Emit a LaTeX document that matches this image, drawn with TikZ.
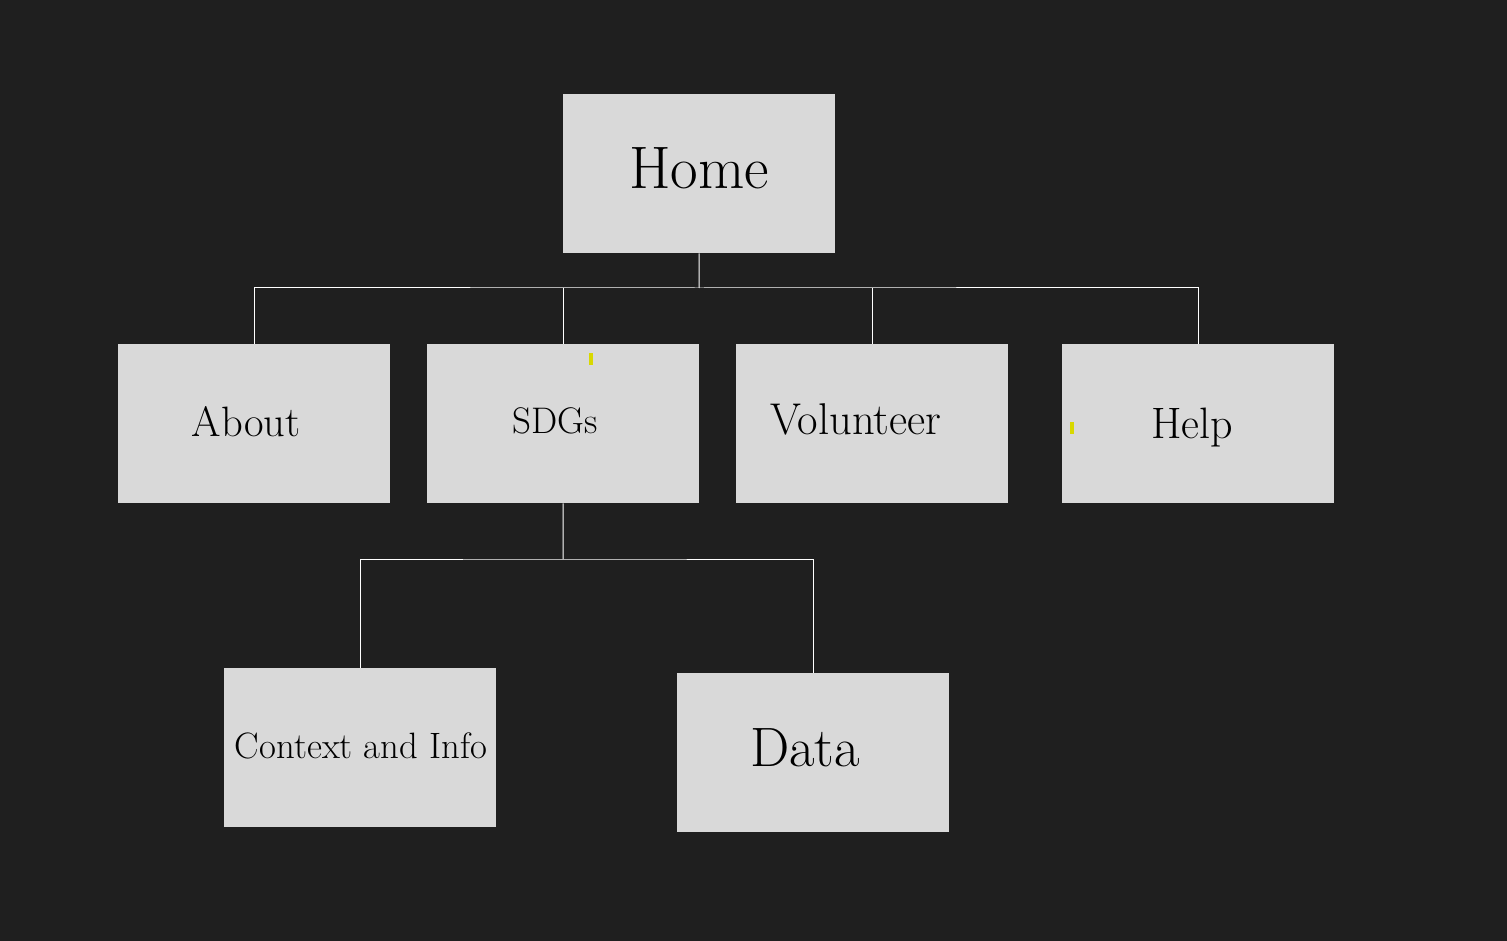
\documentclass[tikz,border=0pt]{standalone}
\definecolor{bg}{HTML}{1F1F1F}
\definecolor{boxgray}{HTML}{D9D9D9}
\definecolor{cursoryellow}{HTML}{D8D800}
\begin{document}
\begin{tikzpicture}[x=1pt,y=-1pt,
  box/.style={fill=boxgray,draw=none,minimum width=272pt,minimum height=159pt,inner sep=0pt,anchor=north west},
  lbl/.style={anchor=base,inner sep=0pt,text=black},
  conn/.style={draw=white,line width=1pt}]
\fill[bg] (0,0) rectangle (1507,941);
\useasboundingbox (0,0) rectangle (1507,941);
% boxes
\node[box] (home) at (563,94) {};
\node[box] (about) at (118,344) {};
\node[box] (sdgs) at (427,344) {};
\node[box] (vol) at (736,344) {};
\node[box] (help) at (1062,344) {};
\node[box] (ctx) at (224,668) {};
\node[box] (data) at (677,673) {};
% labels
\node[lbl,font=\fontsize{60}{60}\selectfont] (thome) at (699,189) {Home};
\node[lbl,font=\fontsize{42.5}{42.5}\selectfont] (tabout) at (246,436) {About};
\node[lbl,font=\fontsize{37}{37}\selectfont] (tsdgs) at (555,433) {SDGs};
\node[lbl,font=\fontsize{44.5}{44.5}\selectfont] (tvol) at (856,434) {Volunteer};
\node[lbl,font=\fontsize{44}{44}\selectfont] (thelp) at (1192,438) {Help};
\node[lbl,font=\fontsize{36.7}{36.7}\selectfont] (tctx) at (361,758) {Context and Info};
\node[lbl,font=\fontsize{55.5}{55.5}\selectfont] (tdata) at (805,766) {Data};
% connectors
\coordinate (hb) at (699,288);
\coordinate (sb) at (563,559);
\draw[conn] (home.south) -- (hb);
\draw[conn] (about.north) |- (hb) -| (help.north);
\draw[conn] (sdgs.north) -- (sdgs.north |- hb);
\draw[conn] (vol.north) -- (vol.north |- hb);
\draw[conn] (sdgs.south) -- (sb);
\draw[conn] (ctx.north) |- (sb) -| (data.north);
% small yellow marks
\fill[cursoryellow] (589,353) rectangle (593,365);
\fill[cursoryellow] (1070,422) rectangle (1074,434);
\end{tikzpicture}
\end{document}
